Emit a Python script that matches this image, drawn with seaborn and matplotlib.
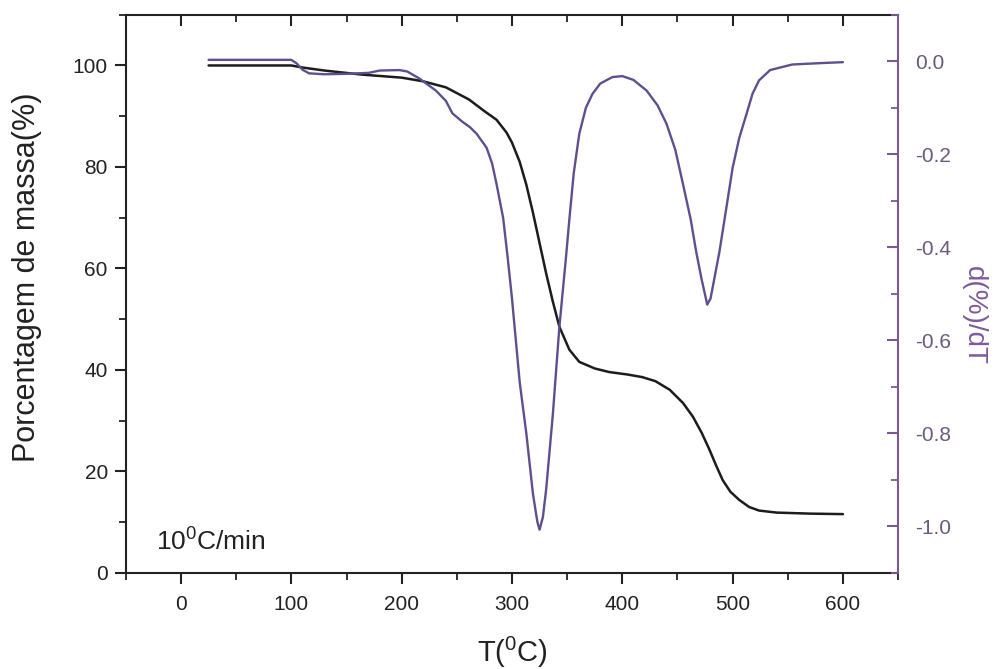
import matplotlib
matplotlib.use("Agg")
import matplotlib.pyplot as plt
from matplotlib.ticker import MultipleLocator
import pandas as pd
import seaborn as sns

# Thermogravimetric curve: temperature (°C) vs. remaining mass (%)
tg_temp = [25, 100, 110, 130, 164, 200, 219, 240, 261, 275, 286, 295, 300, 307,
           313, 319, 325, 331, 337, 343, 352, 361, 375, 388, 405, 418, 430, 443,
           455, 464, 472, 479, 485, 491, 498, 506, 515, 524, 540, 570, 600]
tg_mass = [100.0, 100.0, 99.6, 99.0, 98.2, 97.6, 96.9, 95.7, 93.3, 91.0, 89.3,
           86.8, 84.8, 81.0, 76.5, 71.0, 65.0, 59.0, 53.5, 48.5, 44.0, 41.6,
           40.3, 39.6, 39.1, 38.6, 37.8, 36.1, 33.5, 30.8, 27.6, 24.3, 21.2,
           18.3, 16.0, 14.4, 13.0, 12.3, 11.9, 11.7, 11.6]

# Derivative curve: temperature (°C) vs. d(%)/dT
dtg_temp = [25, 100, 105, 110, 116, 130, 150, 170, 180, 198, 205, 216, 231, 240,
            246, 255, 262, 268, 277, 282, 286, 292, 296, 300, 307, 313, 319, 323,
            325, 328, 331, 337, 343, 349, 352, 356, 361, 367, 373, 380, 391, 400,
            410, 422, 432, 440, 448, 455, 462, 467, 472, 477, 480, 484, 488, 494,
            500, 506, 513, 518, 524, 534, 554, 580, 600]
dtg_rate = [0.003, 0.003, -0.005, -0.018, -0.026, -0.028, -0.027, -0.025, -0.020,
            -0.019, -0.022, -0.037, -0.063, -0.085, -0.112, -0.130, -0.142,
            -0.156, -0.186, -0.220, -0.264, -0.337, -0.420, -0.510, -0.690,
            -0.800, -0.930, -0.990, -1.007, -0.980, -0.920, -0.760, -0.570,
            -0.420, -0.340, -0.240, -0.156, -0.100, -0.070, -0.048, -0.034,
            -0.032, -0.040, -0.063, -0.095, -0.134, -0.190, -0.264, -0.340,
            -0.410, -0.470, -0.523, -0.510, -0.460, -0.410, -0.320, -0.229,
            -0.165, -0.110, -0.070, -0.041, -0.019, -0.007, -0.004, -0.002]

tg = pd.DataFrame({"T": tg_temp, "mass": tg_mass})
dtg = pd.DataFrame({"T": dtg_temp, "rate": dtg_rate})

sns.set_style("ticks")
plt.rcParams["font.family"] = ["Liberation Sans", "DejaVu Sans"]
plt.rcParams["mathtext.fontset"] = "custom"
plt.rcParams["mathtext.rm"] = "Liberation Sans"
plt.rcParams["mathtext.it"] = "Liberation Sans"

ink = "#222222"
purple = "#5f4f8e"
axis_purple = "#7a5a94"

fig = plt.figure(figsize=(9.99, 6.69), dpi=100)
ax = fig.add_axes([0.126, 0.1435, 0.773, 0.8345])
ax2 = ax.twinx()

sns.lineplot(data=tg, x="T", y="mass", ax=ax, color="#1c1c1c", lw=1.8)
sns.lineplot(data=dtg, x="T", y="rate", ax=ax2, color=purple, lw=1.7)

ax.set_xlim(-50, 650)
ax.set_ylim(0, 110)

ax.xaxis.set_major_locator(MultipleLocator(100))
ax.xaxis.set_minor_locator(MultipleLocator(50))
ax.set_yticks([0, 20, 40, 60, 80, 100])
ax.yaxis.set_minor_locator(MultipleLocator(10))
ax2.set_yticks([0.0, -0.2, -0.4, -0.6, -0.8, -1.0])
ax2.set_yticklabels(["0.0", "-0.2", "-0.4", "-0.6", "-0.8", "-1.0"])
ax2.yaxis.set_minor_locator(MultipleLocator(0.1))
ax2.set_ylim(-1.1, 0.1)

for s in ["left", "bottom", "top"]:
    ax.spines[s].set_linewidth(1.5)
    ax.spines[s].set_color(ink)
    ax2.spines[s].set_visible(False)
ax.spines["right"].set_visible(False)
ax2.spines["right"].set_color(axis_purple)
ax2.spines["right"].set_linewidth(1.5)

ax.tick_params(axis="x", which="both", bottom=True, top=False, direction="out",
               labelsize=15, colors=ink, pad=8)
ax.tick_params(axis="x", which="major", length=8, width=1.5)
ax.tick_params(axis="x", which="minor", length=5, width=1.3)
ax.tick_params(axis="y", which="both", left=True, right=False, direction="out",
               labelsize=15, colors=ink, pad=5)
ax.tick_params(axis="y", which="major", length=8, width=1.5)
ax.tick_params(axis="y", which="minor", length=5, width=1.3)

# inward ticks along the top edge
top = ax.secondary_xaxis("top")
top.xaxis.set_major_locator(MultipleLocator(100))
top.xaxis.set_minor_locator(MultipleLocator(50))
top.tick_params(axis="x", which="both", direction="in", labeltop=False,
                colors=ink)
top.tick_params(axis="x", which="major", length=8, width=1.5)
top.tick_params(axis="x", which="minor", length=5, width=1.3)
top.spines["top"].set_visible(False)

ax2.tick_params(axis="y", which="both", direction="in", labelsize=15,
                colors=axis_purple, labelcolor="#6a5a7e", pad=12)
ax2.tick_params(axis="y", which="major", length=8, width=1.5)
ax2.tick_params(axis="y", which="minor", length=5, width=1.3)

ax.set_xlabel(r"T($\mathregular{^0}$C)", fontsize=21, color=ink, va="center")
ax.xaxis.set_label_coords(0.5, -0.142)
ax.set_ylabel("Porcentagem de massa(%)", fontsize=22, color=ink, va="center")
ax.yaxis.set_label_coords(-0.128, 0.53)
ax2.set_ylabel("d(%)/dT", fontsize=20, color="#7e5a9c", rotation=-90,
               va="center", ha="center")
ax2.yaxis.set_label_coords(1.098, 0.462)

ax.text(-23, 4.5, r"10$\mathregular{^0}$C/min", fontsize=19, color=ink,
        ha="left", va="baseline")

fig.savefig("out.png", dpi=100)
